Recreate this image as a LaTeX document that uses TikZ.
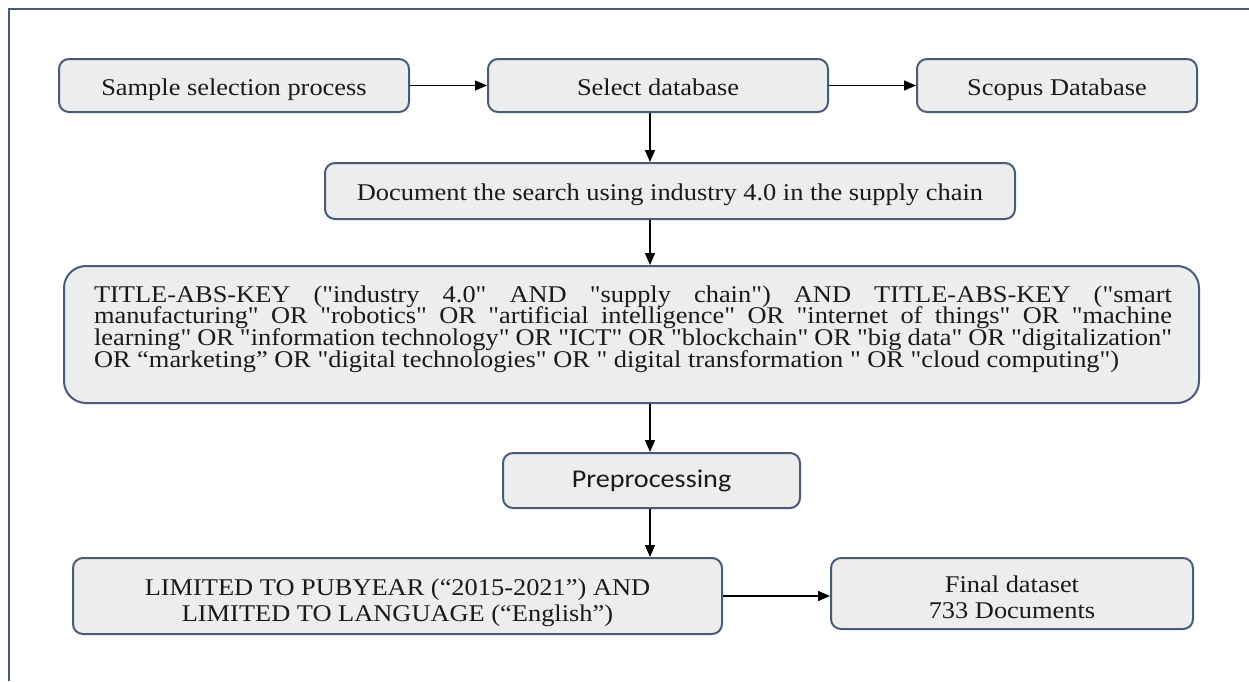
\documentclass[tikz,border=0pt]{standalone}
\usepackage{fontspec}
\setmainfont{Liberation Serif}[Ligatures=TeXOff]
\newfontfamily\serfont{Liberation Serif}[Ligatures=TeXOff,FakeStretch=1.1]
\newfontfamily\calfont{Carlito}[FakeStretch=1.1]
\usetikzlibrary{arrows.meta}
\definecolor{edgecol}{HTML}{4A5B78}
\definecolor{boxfill}{HTML}{EDEDED}
\definecolor{txt}{HTML}{1A1A1A}
\begin{document}
\begin{tikzpicture}[x=0.5pt,y=-0.5pt,
  box/.style={draw=edgecol, line width=1pt, fill=boxfill, rounded corners=5pt,
    inner sep=0pt, align=center, text=txt, font=\serfont\fontsize{12}{13}\selectfont},
  onebox/.style={box, text height=11pt, text depth=1.5pt},
  bigbox/.style={box, rounded corners=11pt},
  plain/.style={inner sep=0pt, text=txt, font=\serfont\fontsize{12}{10.9}\selectfont},
  arr/.style={-{Triangle[length=6pt,width=5pt]}, line width=0.7pt, draw=black}]
\useasboundingbox (0,0) rectangle (1249,681);
\draw[edgecol, line width=1.3pt] (9,681) -- (9,9) -- (1249,9);

\node[onebox, minimum width=175pt, minimum height=26.5pt] (ssp) at (234,85.5) {Sample selection process};
\node[onebox, minimum width=170pt, minimum height=26.5pt] (sel) at (658,85.5) {Select database};
\node[onebox, minimum width=140pt, minimum height=26.5pt] (sco) at (1057,85.5) {Scopus Database};
\node[onebox, minimum width=345pt, minimum height=28pt] (doc) at (670,191) {Document the search using industry 4.0 in the supply chain};
\node[bigbox, minimum width=567.5pt, minimum height=68.5pt] (big) at (631.5,334.5) {};
\node[plain] (bigtext) at (633,329) {\parbox{539pt}{\lineskiplimit=-20pt\baselineskip=10.9pt\parindent=0pt
\makebox[539pt][s]{TITLE-ABS-KEY ("industry 4.0" AND "supply chain") AND TITLE-ABS-KEY ("smart}\\
\makebox[539pt][s]{manufacturing" OR "robotics" OR "artificial intelligence" OR "internet of things" OR "machine}\\
\makebox[539pt][s]{learning" OR "information technology" OR "ICT" OR "blockchain" OR "big data" OR "digitalization"}\\
\makebox[539pt][l]{OR “marketing” OR "digital technologies" OR " digital transformation " OR "cloud computing")}\par}};
\node[box, minimum width=148.5pt, minimum height=27.5pt, font=\calfont\fontsize{12.8}{14}\selectfont] (pre) at (651.5,480.5) {Preprocessing};
\node[box, minimum width=324.5pt, minimum height=38pt] (lim) at (397.5,596) {\rule{0pt}{15pt}LIMITED TO PUBYEAR (“2015-2021”) AND\\LIMITED TO LANGUAGE (“English”)};
\node[box, minimum width=181pt, minimum height=35.5pt] (fin) at (1012,593.5) {\rule{0pt}{12.5pt}Final dataset\\733 Documents};

\coordinate (axis) at (650,0);
\draw[arr] (ssp.east) -- (sel.west);
\draw[arr] (sel.east) -- (sco.west);
\draw[arr] (sel.south -| axis) -- (doc.north -| axis);
\draw[arr] (doc.south -| axis) -- (big.north -| axis);
\draw[arr] (big.south -| axis) -- (pre.north -| axis);
\draw[arr] (pre.south -| axis) -- (lim.north -| axis);
\draw[arr] (lim.east) -- (lim.east -| fin.west);
\end{tikzpicture}
\end{document}
